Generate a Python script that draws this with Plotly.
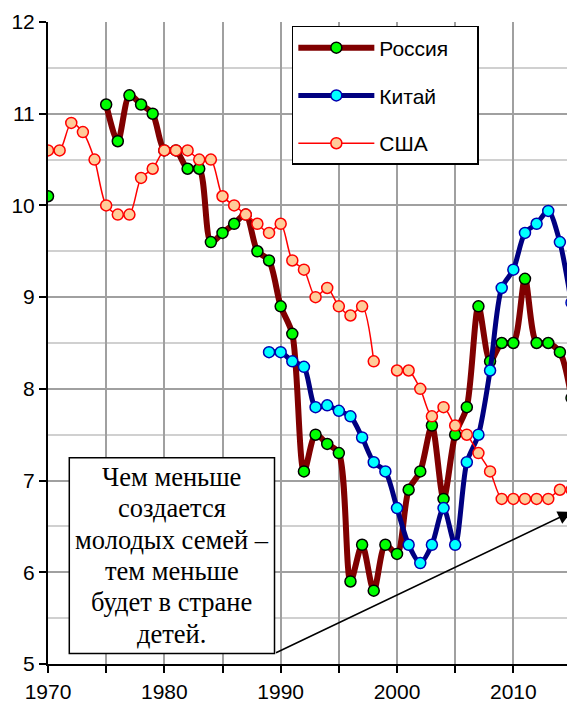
import plotly.graph_objects as go

years = list(range(1970, 2017))

russia = [10.1, None, None, None, None, 11.1, 10.7, 11.2, 11.1, 11.0,
          10.6, 10.6, 10.4, 10.4, 9.6, 9.7, 9.8, 9.9, 9.5, 9.4,
          8.9, 8.6, 7.1, 7.5, 7.4, 7.3, 5.9, 6.3, 5.8, 6.3,
          6.2, 6.9, 7.1, 7.6, 6.8, 7.5, 7.8, 8.9, 8.3, 8.5,
          8.5, 9.2, 8.5, 8.5, 8.4, 7.9, 6.7]

china = [None] * 19 + [8.4,
         8.4, 8.3, 8.24, 7.8, 7.82, 7.76, 7.7, 7.47, 7.2, 7.1,
         6.7, 6.3, 6.1, 6.3, 6.7, 6.3, 7.2, 7.5, 8.2, 9.1,
         9.3, 9.7, 9.8, 9.94, 9.6, 8.94, 8.3]

usa = [10.6, 10.6, 10.9, 10.8, 10.5, 10.0, 9.9, 9.9, 10.3, 10.4,
       10.6, 10.6, 10.6, 10.5, 10.5, 10.1, 10.0, 9.9, 9.8, 9.7,
       9.8, 9.4, 9.3, 9.0, 9.1, 8.9, 8.8, 8.9, 8.3, None,
       8.2, 8.2, 8.0, 7.7, 7.8, 7.6, 7.5, 7.3, 7.1, 6.8,
       6.8, 6.8, 6.8, 6.8, 6.9, 6.9, 7.0]

x_tick_vals = list(range(1970, 2016, 5))
x_tick_text = ["1970", "", "1980", "", "1990", "", "2000", "", "2010", ""]

note_lines = ["Чем меньше", "создается", "молодых семей –", "тем меньше",
              "будет в стране", "детей."]
note_y = [7.038, 6.697, 6.356, 6.014, 5.673, 5.332]

fig = go.Figure()

fig.add_trace(go.Scatter(
    x=years, y=russia, name="Россия\u00a0\u00a0\u00a0\u00a0", mode="lines+markers", legendgroup="r",
    line=dict(color="#800000", width=6, shape="spline", smoothing=0.8),
    marker=dict(size=11, color="#00FF00", line=dict(color="#000000", width=1.5)),
))
fig.add_trace(go.Scatter(
    x=years, y=china, name="Китай", mode="lines+markers", legendgroup="c",
    line=dict(color="#000080", width=5, shape="spline", smoothing=0.8),
    marker=dict(size=11, color="#00FFFF", line=dict(color="#0000B0", width=1.5)),
))
fig.add_trace(go.Scatter(
    x=years, y=usa, name="США", mode="lines+markers", legendgroup="u",
    line=dict(color="#FF0000", width=1.5, shape="spline", smoothing=0.8),
    marker=dict(size=11, color="#FFCC99", line=dict(color="#FF0000", width=1.5)),
))

# annotation box
fig.add_shape(type="rect", xref="x", yref="y", x0=1971.83, x1=1989.47, y0=5.115, y1=7.25,
              line=dict(color="black", width=1.5), fillcolor="white", layer="above")
for txt, yy in zip(note_lines, note_y):
    fig.add_annotation(x=1980.65, y=yy, xref="x", yref="y", text=txt, showarrow=False,
                       font=dict(family="Liberation Serif, Times New Roman, serif", size=26.5,
                                 color="black"),
                       align="center")
fig.add_annotation(x=2015.0, y=6.66, ax=1989.47, ay=5.115, xref="x", yref="y",
                   axref="x", ayref="y", text="", showarrow=True, arrowhead=2,
                   arrowsize=1.8, arrowwidth=1.5, arrowcolor="black")

# page body adds an 8px offset, so the figure is 8px smaller than the window
fig.update_layout(
    width=567, height=697,
    margin=dict(l=40, r=0, t=14, b=41),
    plot_bgcolor="white", paper_bgcolor="white",
    font=dict(family="Liberation Sans, Arial, sans-serif", size=21, color="black"),
    showlegend=True,
    legend=dict(x=0.4627, y=0.9938, xanchor="left", yanchor="top",
                bgcolor="white", bordercolor="black", borderwidth=1.5,
                font=dict(size=21), tracegroupgap=17.5, itemwidth=76,
                traceorder="grouped"),
    xaxis=dict(range=[1970, 2015.3], tickmode="array", tickvals=x_tick_vals, ticktext=x_tick_text,
               showgrid=True, gridcolor="#A0A0A0", gridwidth=1.5,
               showline=True, linecolor="black", linewidth=2,
               ticks="outside", ticklen=7, tickwidth=1.5, tickcolor="black",
               zeroline=False, tickfont=dict(size=21), automargin=False,
               ticklabelstandoff=1),
    yaxis=dict(range=[5, 12], dtick=1, tick0=5,
               showgrid=True, gridcolor="#A0A0A0", gridwidth=1.5,
               minor=dict(dtick=0.5, showgrid=True, gridcolor="#D0D0D0", gridwidth=1.5),
               showline=True, linecolor="black", linewidth=2,
               ticks="outside", ticklen=7, tickwidth=1.5, tickcolor="black",
               zeroline=False, tickfont=dict(size=21), automargin=False),
)

fig.write_html("out.html")
